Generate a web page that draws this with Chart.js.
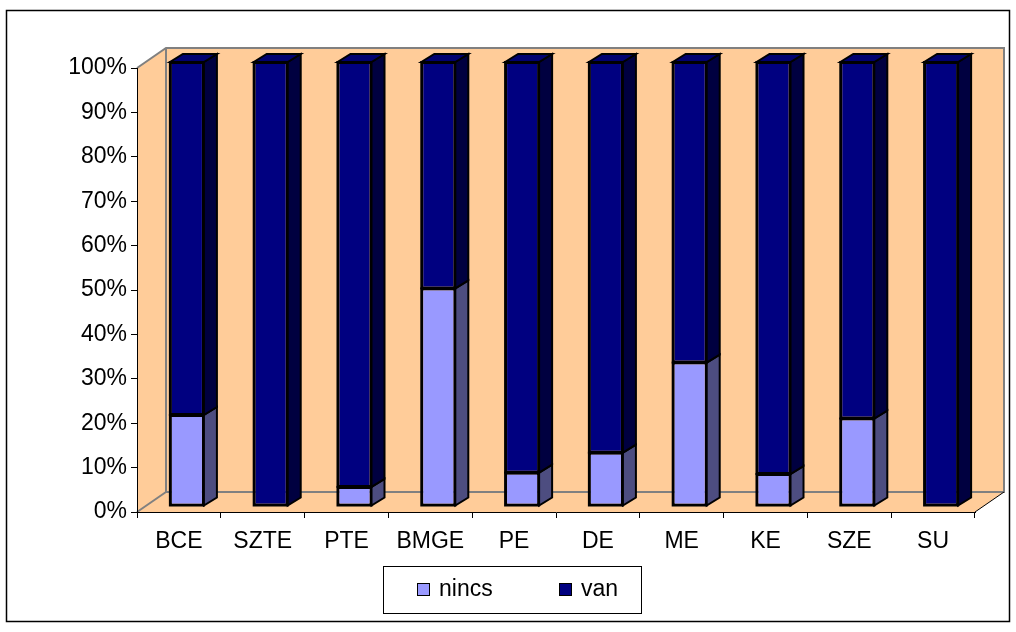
<!DOCTYPE html>
<html>
<head>
<meta charset="utf-8">
<script src="https://cdn.jsdelivr.net/npm/chart.js@4"></script>
<style>
  html, body { margin: 0; padding: 0; background: #fff; }
</style>
</head>
<body>
<canvas id="chart" width="1016" height="632"></canvas>
<script>
// chart data
const categories = ['BCE', 'SZTE', 'PTE', 'BMGE', 'PE', 'DE', 'ME', 'KE', 'SZE', 'SU'];
const nincsValues = [20.5, 0, 4.3, 49, 7.5, 12, 32.3, 7.2, 19.7, 0];
const vanValues = [79.5, 100, 95.7, 51, 92.5, 88, 67.7, 92.8, 80.3, 100];
const seriesNames = ['nincs', 'van'];

// colours
const frontColors = ['#9999FF', '#000080'];
const sideColors = ['#4D4D80', '#000040'];
const topColors = ['#8080D0', '#000070'];
const FONT = '"Liberation Sans", Arial, sans-serif';
const FONT_SIZE = 23;

// fake 3D depth (floor, bar shift, bar thickness)
const DX = 29, DY = -20;
const SX = 8, SY = -6;
const BX = 13, BY = -8;

function poly(ctx, pts, fill, stroke, lw) {
    ctx.beginPath();
    ctx.moveTo(pts[0][0], pts[0][1]);
    for (let i = 1; i < pts.length; i++) ctx.lineTo(pts[i][0], pts[i][1]);
    ctx.closePath();
    if (fill) { ctx.fillStyle = fill; ctx.fill(); }
    if (stroke) { ctx.strokeStyle = stroke; ctx.lineWidth = lw || 1; ctx.stroke(); }
}

// walls, floor, outer frame
const wallsPlugin = {
    id: 'walls',
    beforeDraw(chart) {
        const ctx = chart.ctx;
        const { left, right, top, bottom } = chart.chartArea;
        ctx.save();
        ctx.fillStyle = '#fff';
        ctx.fillRect(0, 0, chart.width, chart.height);
        ctx.strokeStyle = '#000';
        ctx.lineWidth = 1.5;
        ctx.strokeRect(6.5, 10.5, 1003, 611);

        poly(ctx, [[left, bottom], [left, top], [left + DX, top + DY], [right + DX, top + DY],
            [right + DX, bottom + DY], [right, bottom]], '#FFCC99');

        ctx.strokeStyle = '#808080';
        ctx.lineWidth = 2;
        ctx.beginPath();
        ctx.moveTo(left, top); ctx.lineTo(left + DX, top + DY);
        ctx.lineTo(right + DX, top + DY); ctx.lineTo(right + DX, bottom + DY);
        ctx.lineTo(left + DX, bottom + DY); ctx.lineTo(left + DX, top + DY);
        ctx.moveTo(left, bottom); ctx.lineTo(left + DX, bottom + DY);
        ctx.stroke();

        ctx.strokeStyle = '#000';
        ctx.lineWidth = 1;
        ctx.beginPath();
        ctx.moveTo(right, bottom); ctx.lineTo(right + DX, bottom + DY);
        ctx.stroke();
        ctx.restore();
    }
};

// shifts bars into depth and adds side / top faces
const bars3dPlugin = {
    id: 'bars3d',
    beforeDatasetsDraw(chart) {
        chart.ctx.save();
        chart.ctx.translate(SX, SY);
    },
    afterDatasetsDraw(chart) {
        const ctx = chart.ctx;
        const metas = chart.data.datasets.map((d, i) => chart.getDatasetMeta(i));
        categories.forEach((c, j) => {
            let topBar = null, topIdx = -1;
            metas.forEach((meta, di) => {
                const p = meta.data[j].getProps(['x', 'y', 'base', 'width'], true);
                if (Math.abs(p.base - p.y) < 0.5) return;
                const l = p.x - p.width / 2, r = p.x + p.width / 2;
                // outline of the front face (covers the seam between segments)
                ctx.strokeStyle = '#000';
                ctx.lineWidth = 2;
                ctx.strokeRect(l, p.y, r - l, p.base - p.y);
                poly(ctx, [[r, p.y], [r + BX, p.y + BY], [r + BX, p.base + BY], [r, p.base]],
                    sideColors[di], '#000', 2);
                topBar = p; topIdx = di;
            });
            if (topBar) {
                const l = topBar.x - topBar.width / 2, r = topBar.x + topBar.width / 2, y = topBar.y;
                poly(ctx, [[l, y], [l + BX, y + BY], [r + BX, y + BY], [r, y]], topColors[topIdx], '#000', 2);
            }
        });
        ctx.restore();
    }
};

// boxed legend under the chart
const legendPlugin = {
    id: 'boxLegend',
    afterDraw(chart) {
        const ctx = chart.ctx;
        ctx.save();
        ctx.fillStyle = '#fff';
        ctx.fillRect(383, 566, 258, 47);
        ctx.strokeStyle = '#000';
        ctx.lineWidth = 1;
        ctx.strokeRect(383.5, 566.5, 258, 47);
        const xs = [417, 559];
        ctx.font = FONT_SIZE + 'px ' + FONT;
        ctx.textBaseline = 'middle';
        chart.data.datasets.forEach((ds, i) => {
            ctx.fillStyle = ds.backgroundColor;
            ctx.fillRect(xs[i], 583, 13, 13);
            ctx.strokeRect(xs[i] + 0.5, 583.5, 12, 12);
            ctx.fillStyle = '#000';
            ctx.fillText(ds.label, xs[i] + 22, 590);
        });
        ctx.restore();
    }
};

const datasets = [nincsValues, vanValues].map((vals, i) => ({
    label: seriesNames[i],
    data: vals,
    backgroundColor: frontColors[i],
    borderColor: '#000',
    borderWidth: 2,
    borderSkipped: false,
    categoryPercentage: 1,
    barPercentage: 0.406,
    clip: false
}));

new Chart(document.getElementById('chart'), {
    type: 'bar',
    data: { labels: categories, datasets: datasets },
    options: {
        responsive: false,
        animation: false,
        devicePixelRatio: 1,
        layout: { padding: { top: 68, right: 41, left: 0, bottom: 0 } },
        plugins: { legend: { display: false }, tooltip: { enabled: false } },
        scales: {
            x: {
                stacked: true,
                afterFit(s) { s.height = 120; },
                grid: { drawOnChartArea: false, drawTicks: true, tickLength: 6, color: '#000', offset: true },
                border: { display: true, color: '#000', width: 1 },
                ticks: { color: '#000', font: { family: FONT, size: FONT_SIZE }, padding: 10, maxRotation: 0 }
            },
            y: {
                stacked: true,
                min: 0,
                max: 100,
                afterFit(s) { s.width = 137; },
                grid: { drawOnChartArea: false, drawTicks: true, tickLength: 6, color: '#000' },
                border: { display: true, color: '#000', width: 1 },
                ticks: {
                    stepSize: 10,
                    color: '#000',
                    padding: 4,
                    font: { family: FONT, size: FONT_SIZE },
                    callback: v => v + '%'
                }
            }
        }
    },
    plugins: [wallsPlugin, bars3dPlugin, legendPlugin]
});
</script>
</body>
</html>
